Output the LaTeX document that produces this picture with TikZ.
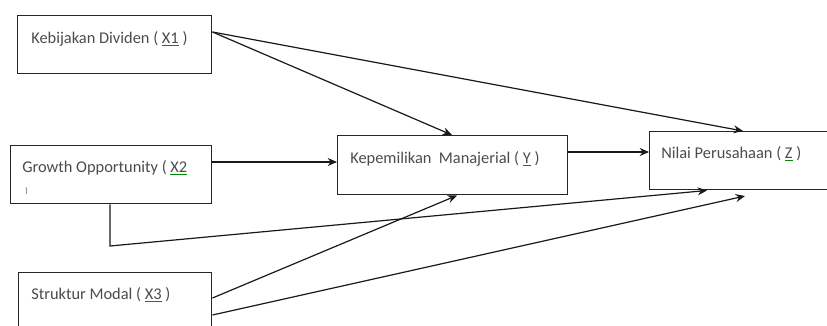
\documentclass[tikz,border=0pt]{standalone}
\usepackage{fontspec}
\setmainfont{Carlito}
\usetikzlibrary{arrows.meta,calc}
\newsavebox\gbox
\newcommand\gul[1]{\sbox\gbox{#1}\rlap{\color{green!55!black}\rule[-2.4pt]{\wd\gbox}{0.6pt}}\usebox\gbox}
\tikzset{
  box/.style={draw=black!85, line width=1.1pt, rectangle, inner sep=0pt, anchor=north west},
  lbl/.style={anchor=base west, inner sep=0pt, text=black!70, font=\fontsize{12.3}{14}\selectfont},
  arr/.style={draw=black!90, line width=0.9pt, -{Stealth[length=7pt,width=6pt]}},
  ln/.style={draw=black!90, line width=0.9pt}
}
\begin{document}
\begin{tikzpicture}[x=0.75pt,y=-0.75pt]
\useasboundingbox (0,0) rectangle (827,325);
\fill[white] (0,0) rectangle (827,325);
\clip (0,0) rectangle (827,325);
% boxes
\node[box, minimum width=194*0.75pt, minimum height=58*0.75pt] (x1) at (17,15) {};
\node[box, minimum width=201*0.75pt, minimum height=58*0.75pt] (x2) at (10,145) {};
\node[box, minimum width=193*0.75pt, minimum height=70*0.75pt] (x3) at (18,272) {};
\node[box, minimum width=230*0.75pt, minimum height=59*0.75pt] (y) at (337,135) {};
\node[box, minimum width=230*0.75pt, minimum height=58*0.75pt] (z) at (649,131) {};
% labels
\node[lbl] (tx1) at (31,43) {Kebijakan Dividen ( \gul{X1} )};
\node[lbl] (tx2) at (22,172) {Growth Opportunity ( \gul{X2}};
\node[lbl, font=\fontsize{6}{7}\selectfont] (tx2b) at (25,193) {)};
\node[lbl] (tx3) at (31,299) {Struktur Modal ( \gul{X3} )};
\node[lbl] (ty) at (350,163) {Kepemilikan\ \ Manajerial ( \gul{Y} )};
\node[lbl] (tz) at (661,158) {Nilai Perusahaan ( \gul{Z} )};
% coordinates
\coordinate (ex2) at (110,246);
\coordinate (zb2) at (745,196);
% connectors
\draw[arr] ($(x1.north east)+(0,17)$) -- ($(z.north west)+(94,0)$);
\draw[arr] ($(x1.north east)+(0,17)$) -- ($(y.north west)+(115,0)$);
\draw[arr] ($(x2.north east)+(0,17)$) -- ($(y.north west)+(0,27)$);
\draw[arr] ($(y.north east)+(0,17)$) -- ($(z.north west)+(0,21)$);
\draw[arr] ($(x2.south west)+(100,0)$) -- (ex2) -- ($(z.south west)+(58,0)$);
\draw[arr] ($(x3.north east)+(0,26)$) -- ($(y.south west)+(120,0)$);
\draw[arr] ($(x3.north east)+(0,43)$) -- (zb2);
\end{tikzpicture}
\end{document}
